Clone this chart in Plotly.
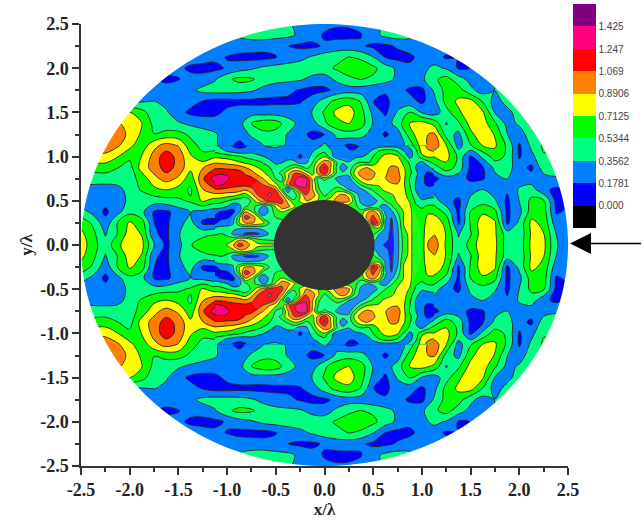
import numpy as np
import plotly.graph_objects as go

x_vals = [round(-2.5 + 0.125 * i, 3) for i in range(41)]
y_upper = [2.5, 2.375, 2.25, 2.125, 2.0, 1.875, 1.75, 1.625, 1.5, 1.375, 1.25, 1.125, 1.0,
           0.875, 0.75, 0.625, 0.5, 0.375, 0.25, 0.125, 0.0]
# field values (hundredths), row by row, y = 2.5 down to 0
z_upper = [
 [28,28,28,28,28,28,28,28,28,28,28,28,28,36,40,40,40,38,30,26,22,20,20,22,30,38,40,38,30,28,28,28,28,28,28,28,28,28,28,28,28],
 [30,30,30,30,30,30,30,30,30,30,30,30,30,38,42,44,42,40,32,24,16,13,14,17,30,40,44,40,28,28,28,28,28,28,28,28,28,28,28,28,28],
 [28,28,28,28,28,28,28,28,28,28,28,28,28,27,27,25,22,18,14,14,20,26,25,20,14,14,20,26,27,28,28,28,28,28,28,28,28,28,28,28,28],
 [28,28,28,28,28,28,28,28,28,28,27,22,17,13,12,12,17,24,30,38,45,48,54,50,36,17,12,14,24,26,15,18,28,28,28,28,28,28,28,28,28],
 [28,28,28,28,28,28,28,28,22,14,11,13,20,28,33,40,43,45,46,46,48,56,62,64,58,44,32,22,30,40,34,16,18,28,28,28,28,28,28,28,28],
 [28,28,28,28,28,28,20,13,17,24,27,34,50,58,56,46,42,40,38,30,26,40,50,54,50,42,32,27,32,50,60,44,30,28,36,36,36,36,36,36,36],
 [30,30,30,30,30,30,28,27,27,32,40,43,43,42,38,30,24,22,16,12,14,22,27,26,22,20,24,15,13,38,60,62,40,28,36,40,40,40,40,40,40],
 [30,30,30,30,30,34,36,30,27,24,17,12,12,13,13,13,14,14,16,26,44,60,66,52,18,14,26,24,14,30,60,75,78,52,28,42,42,42,42,42,42],
 [62,62,62,62,72,60,42,38,24,14,12,13,22,27,27,27,27,27,27,36,56,76,80,60,30,14,38,54,34,26,46,68,82,74,34,30,44,46,46,46,46],
 [85,85,85,90,86,72,48,42,38,32,28,27,27,28,55,64,62,44,30,28,50,66,72,62,34,26,44,72,78,66,34,50,78,80,56,30,38,58,58,58,58],
 [98,98,96,100,84,68,54,60,60,50,44,38,26,26,38,48,46,34,24,13,18,40,46,42,27,15,26,62,86,92,46,30,66,84,70,36,28,44,50,50,50],
 [98,100,100,92,76,60,84,96,88,60,48,40,24,12,26,36,40,34,26,24,40,27,13,20,27,27,28,42,80,100,72,28,52,72,74,50,15,40,56,56,56],
 [80,84,84,72,58,72,96,118,100,74,58,68,66,62,56,46,30,24,14,50,84,62,27,28,54,62,58,34,50,72,78,50,14,40,62,50,16,30,52,50,50],
 [58,60,62,54,46,80,96,116,100,76,88,104,118,120,104,76,56,86,90,48,130,62,50,78,82,80,84,52,16,44,64,46,14,16,40,44,24,14,46,50,50],
 [44,44,44,44,46,60,84,96,86,60,104,134,134,118,112,96,70,112,132,96,14,28,50,90,84,74,96,62,22,12,27,26,14,16,30,36,27,26,27,32,32],
 [30,28,27,30,42,56,66,72,64,50,88,104,112,104,112,120,110,96,120,82,42,60,70,34,26,70,80,78,46,30,27,27,30,36,26,20,38,44,22,14,20],
 [24,27,24,27,40,38,44,46,50,56,74,62,76,44,60,118,122,96,100,90,70,80,98,60,24,56,74,76,60,44,24,14,40,46,38,14,36,58,56,14,16],
 [44,30,14,30,48,40,16,14,26,36,30,24,12,40,90,14,40,60,60,60,60,60,60,50,95,27,62,78,62,66,48,14,54,68,58,14,30,62,62,16,20],
 [64,50,24,54,74,62,18,14,30,42,14,14,26,40,80,74,56,60,60,60,60,60,60,60,130,24,56,78,66,82,66,14,56,82,74,14,40,76,66,26,26],
 [76,58,34,54,80,70,20,14,34,48,48,52,34,26,12,24,44,50,50,50,50,50,50,50,30,14,58,78,70,88,70,34,52,82,74,44,40,74,72,36,24],
 [82,60,42,66,86,76,36,14,30,52,64,66,70,120,82,76,70,60,60,60,60,60,60,60,28,12,52,80,74,100,68,40,60,84,76,44,42,76,76,38,24],
]
for row in z_upper:
    assert len(row) == 41

# finer reading of the central region, x and y from the zoomed picture
x_inner = [round(-1.125 + 0.0625 * i, 4) for i in range(37)]
y_inner_upper = [1.125, 1.0625, 1.0, 0.9375, 0.875, 0.8125, 0.75, 0.6875, 0.625, 0.5625, 0.5,
                 0.4375, 0.375, 0.3125, 0.25, 0.1875, 0.125, 0.0625, 0.0]
z_inner_upper = [
 [40,30,24,15,12,15,26,30,36,38,40,36,34,27,26,18,24,30,40, 30,27,22,13,12,20,27,27,27,27,27,27,28,42,62,80,96,100],
 [48,42,34,28,24,26,30,28,27,27,27,27,26,24,22,26,34,44,48, 38,27,27,20,20,27,30,40,54,62,62,52,36,28,48,78,86,90],
 [68,66,64,60,56,50,46,40,36,30,27,26,26,26,14,26,42,58,70, 42,27,27,27,32,34,40,54,66,78,80,74,52,30,44,66,74,72],
 [86,84,82,78,72,66,62,58,50,40,32,34,42,40,26,32,52,80,98, 90,54,40,36,46,54,50,58,76,84,82,82,66,50,40,32,48,60],
 [104,104,102,102,98,90,82,72,64,54,42,48,56,70,66,48,60,100,128, 90,50,24,40,66,84,90,82,74,84,92,90,74,56,34,26,30,44],
 [118,122,120,118,116,104,96,84,74,60,48,58,84,106,104,82,62,98,118, 86,50,40,44,78,98,104,94,78,86,96,94,76,58,40,24,14,20],
 [134,136,130,118,116,114,112,100,88,76,52,46,88,118,134,128,86,44,60, 46,32,30,26,62,84,94,88,76,88,100,98,76,52,36,22,12,12],
 [130,128,118,112,112,114,118,118,104,88,74,60,102,122,136,128,90,52,40, 50,44,30,22,34,58,72,74,74,80,86,88,74,54,34,22,14,14],
 [104,104,102,102,100,92,100,118,124,122,106,60,20,60,110,122,92,56,44, 50,62,58,36,28,30,44,56,66,76,80,80,76,58,34,26,24,30],
 [82,82,78,76,68,60,82,106,118,128,118,96,48,42,72,106,100,74,50, 64,86,96,84,46,28,24,44,54,60,68,78,78,62,42,27,27,30],
 [62,60,54,46,44,42,56,82,102,116,120,112,82,56,74,90,80,70,70, 80,96,100,94,56,30,18,24,42,54,64,74,78,70,50,38,42,44],
 [46,44,36,22,30,50,62,48,30,44,74,102,96,74,60,60,60,60,60, 60,60,60,60,60,42,36,40,36,26,50,68,76,74,56,50,56,56],
 [24,16,12,14,30,90,72,40,18,42,62,72,58,60,60,60,60,60,60, 60,60,60,60,60,60,86,100,72,30,30,54,72,76,60,60,66,66],
 [14,12,14,26,66,116,104,78,44,46,54,60,60,60,60,60,60,60,60, 60,60,60,60,60,60,96,112,90,40,18,44,72,76,62,56,78,78],
 [14,26,30,34,70,92,92,84,74,52,44,44,60,60,60,60,60,60,60, 60,60,60,60,60,60,60,130,100,32,14,36,72,76,62,60,80,82],
 [40,42,40,40,36,34,34,36,40,48,50,60,60,60,60,60,60,60,60, 60,60,60,60,60,60,60,60,66,32,14,32,70,76,62,62,84,86],
 [52,54,52,30,24,14,12,14,26,38,44,60,60,60,60,60,60,60,60, 60,60,60,60,60,60,60,58,36,24,14,30,64,76,62,62,86,88],
 [60,60,56,66,84,84,72,56,52,50,50,60,60,60,60,60,60,60,60, 60,60,60,60,60,60,60,40,30,24,12,30,60,76,62,62,88,92],
 [66,66,72,88,118,102,84,78,76,76,74,60,60,60,60,60,60,60,60, 60,60,60,60,60,60,60,30,26,14,12,30,60,76,62,62,90,100],
]
for row in z_inner_upper:
    assert len(row) == 37

level_vals = [0.000, 0.1781, 0.3562, 0.5344, 0.7125, 0.8906, 1.069, 1.247, 1.425]
level_labels = ["0.000", "0.1781", "0.3562", "0.5344", "0.7125", "0.8906", "1.069", "1.247", "1.425"]
band_colors = ["#000000", "#0000ff", "#0080ff", "#00ff80", "#00ff00", "#ffff00", "#ff8000", "#ff0000", "#ff0080", "#800080"]
axis_ticks = [-2.5, -2.0, -1.5, -1.0, -0.5, 0.0, 0.5, 1.0, 1.5, 2.0, 2.5]
axis_tick_labels = ["-2.5", "-2.0", "-1.5", "-1.0", "-0.5", "0.0", "0.5", "1.0", "1.5", "2.0", "2.5"]

y_vals = y_upper + [-v for v in y_upper[-2::-1]]
z = (np.array(z_upper + z_upper[-2::-1]) / 100.0).tolist()
y_inner = y_inner_upper + [-v for v in y_inner_upper[-2::-1]]
z_inner = (np.array(z_inner_upper + z_inner_upper[-2::-1]) / 100.0).tolist()

step = 0.1781
zmin, zmax = -step, step * 9
n = len(band_colors)


def scale_from(colors):
    out = []
    for i, c in enumerate(colors):
        out += [[i / n, c], [(i + 1) / n, c]]
    return out


colorscale = scale_from(band_colors)
# the inner patch never goes below zero: its backing colour is azure so no dark hairline edges it
colorscale_inner = scale_from(["#0080ff"] + band_colors[1:])

contours = dict(start=0.0, end=step * 8, size=step)
SMOOTH = 1.0
LINE = dict(color="#222222", width=0.9, smoothing=SMOOTH)

fig = go.Figure()
fig.add_trace(go.Contour(
    x=x_vals, y=y_vals, z=z, zmin=zmin, zmax=zmax, zauto=False, colorscale=colorscale,
    autocontour=False, contours=dict(coloring="fill", showlines=False, **contours),
    line=dict(width=0, smoothing=SMOOTH), hoverinfo="skip",
    colorbar=dict(
        thickness=23, thicknessmode="pixels", len=224, lenmode="pixels",
        x=573 / 642, xref="container", xanchor="left",
        y=1 - 5 / 521, yref="container", yanchor="top",
        xpad=0, ypad=0, outlinewidth=0, borderwidth=0, ticks="",
        tickmode="array", tickvals=level_vals, ticktext=level_labels,
        tickfont=dict(family="Liberation Sans", size=10, color="#444444"),
    ),
))
fig.add_trace(go.Contour(
    x=x_vals, y=y_vals, z=z, showscale=False, autocontour=False,
    contours=dict(coloring="none", showlines=True, **contours), line=LINE, hoverinfo="skip",
))
fig.add_trace(go.Contour(
    x=x_inner, y=y_inner, z=z_inner, zmin=zmin, zmax=zmax, zauto=False, colorscale=colorscale_inner,
    showscale=False, autocontour=False, contours=dict(coloring="fill", showlines=False, **contours),
    line=dict(width=0, smoothing=SMOOTH), hoverinfo="skip",
))
fig.add_trace(go.Contour(
    x=x_inner, y=y_inner, z=z_inner, showscale=False, autocontour=False,
    contours=dict(coloring="none", showlines=True, **contours), line=LINE, hoverinfo="skip",
))

# white mask outside the circular domain
theta = np.linspace(0, 2 * np.pi, 241)[:-1]
R = 2.5
hole = "M" + "L".join(f"{R*np.cos(t):.4f},{R*np.sin(t):.4f}" for t in theta) + "Z"
square = "M-2.5,-2.5L2.53,-2.5L2.53,2.53L-2.5,2.53Z"
px = lambda p: (p - 81) / 487
py = lambda p: (466 - p) / 442
shapes = [
    dict(type="path", xref="x", yref="y", path=square + hole, fillcolor="white",
         line=dict(width=0), layer="above", fillrule="evenodd"),
    dict(type="circle", xref="x", yref="y", x0=-1.0, x1=1.0, y0=-1.0, y1=1.0,
         fillcolor="rgba(255,255,255,0.10)", line=dict(width=0), layer="above"),
    dict(type="circle", xref="x", yref="y", x0=-0.52, x1=0.515, y0=-0.51, y1=0.51,
         fillcolor="#333333", line=dict(width=0), layer="above"),
    dict(type="line", xref="paper", yref="paper", x0=px(590), x1=px(641), y0=py(243.5), y1=py(243.5),
         line=dict(color="#000000", width=1.5), layer="above"),
    dict(type="path", xref="paper", yref="paper", layer="above", fillcolor="#000000", line=dict(width=0),
         path=f"M{px(570)},{py(243.5)}L{px(591)},{py(233)}L{px(591)},{py(254)}Z"),
]

serif = dict(family="Liberation Serif", size=18, color="#222222")
axis_common = dict(
    range=[-2.5, 2.5], tickmode="array", tickvals=axis_ticks,
    ticks="outside", ticklen=7, tickwidth=1.5, tickcolor="#333333",
    showline=True, linecolor="#333333", linewidth=1.5, showgrid=False, zeroline=False,
    tickfont=serif, automargin=False,
    minor=dict(dtick=0.25, ticks="outside", ticklen=4, tickwidth=1.5, tickcolor="#333333", showgrid=False),
    ticktext=[f"<b>{t}</b>" for t in axis_tick_labels],
)
title_font = dict(family="Liberation Serif", size=17, color="#222222")
fig.update_layout(
    width=642, height=521, autosize=False, paper_bgcolor="white", plot_bgcolor="white",
    showlegend=False,
    margin=dict(l=81, r=74, t=24, b=55, autoexpand=False), font=dict(family="Liberation Serif"),
    xaxis=dict(title=dict(text="<b>x/λ</b>", font=title_font, standoff=3), **axis_common),
    yaxis=dict(title=dict(text="<b>y/λ</b>", font=title_font, standoff=3), **axis_common),
    shapes=shapes,
)
fig.write_html("out.html", config={"displayModeBar": False},
               post_script="document.body.style.margin='0';document.documentElement.style.overflow='hidden';")
